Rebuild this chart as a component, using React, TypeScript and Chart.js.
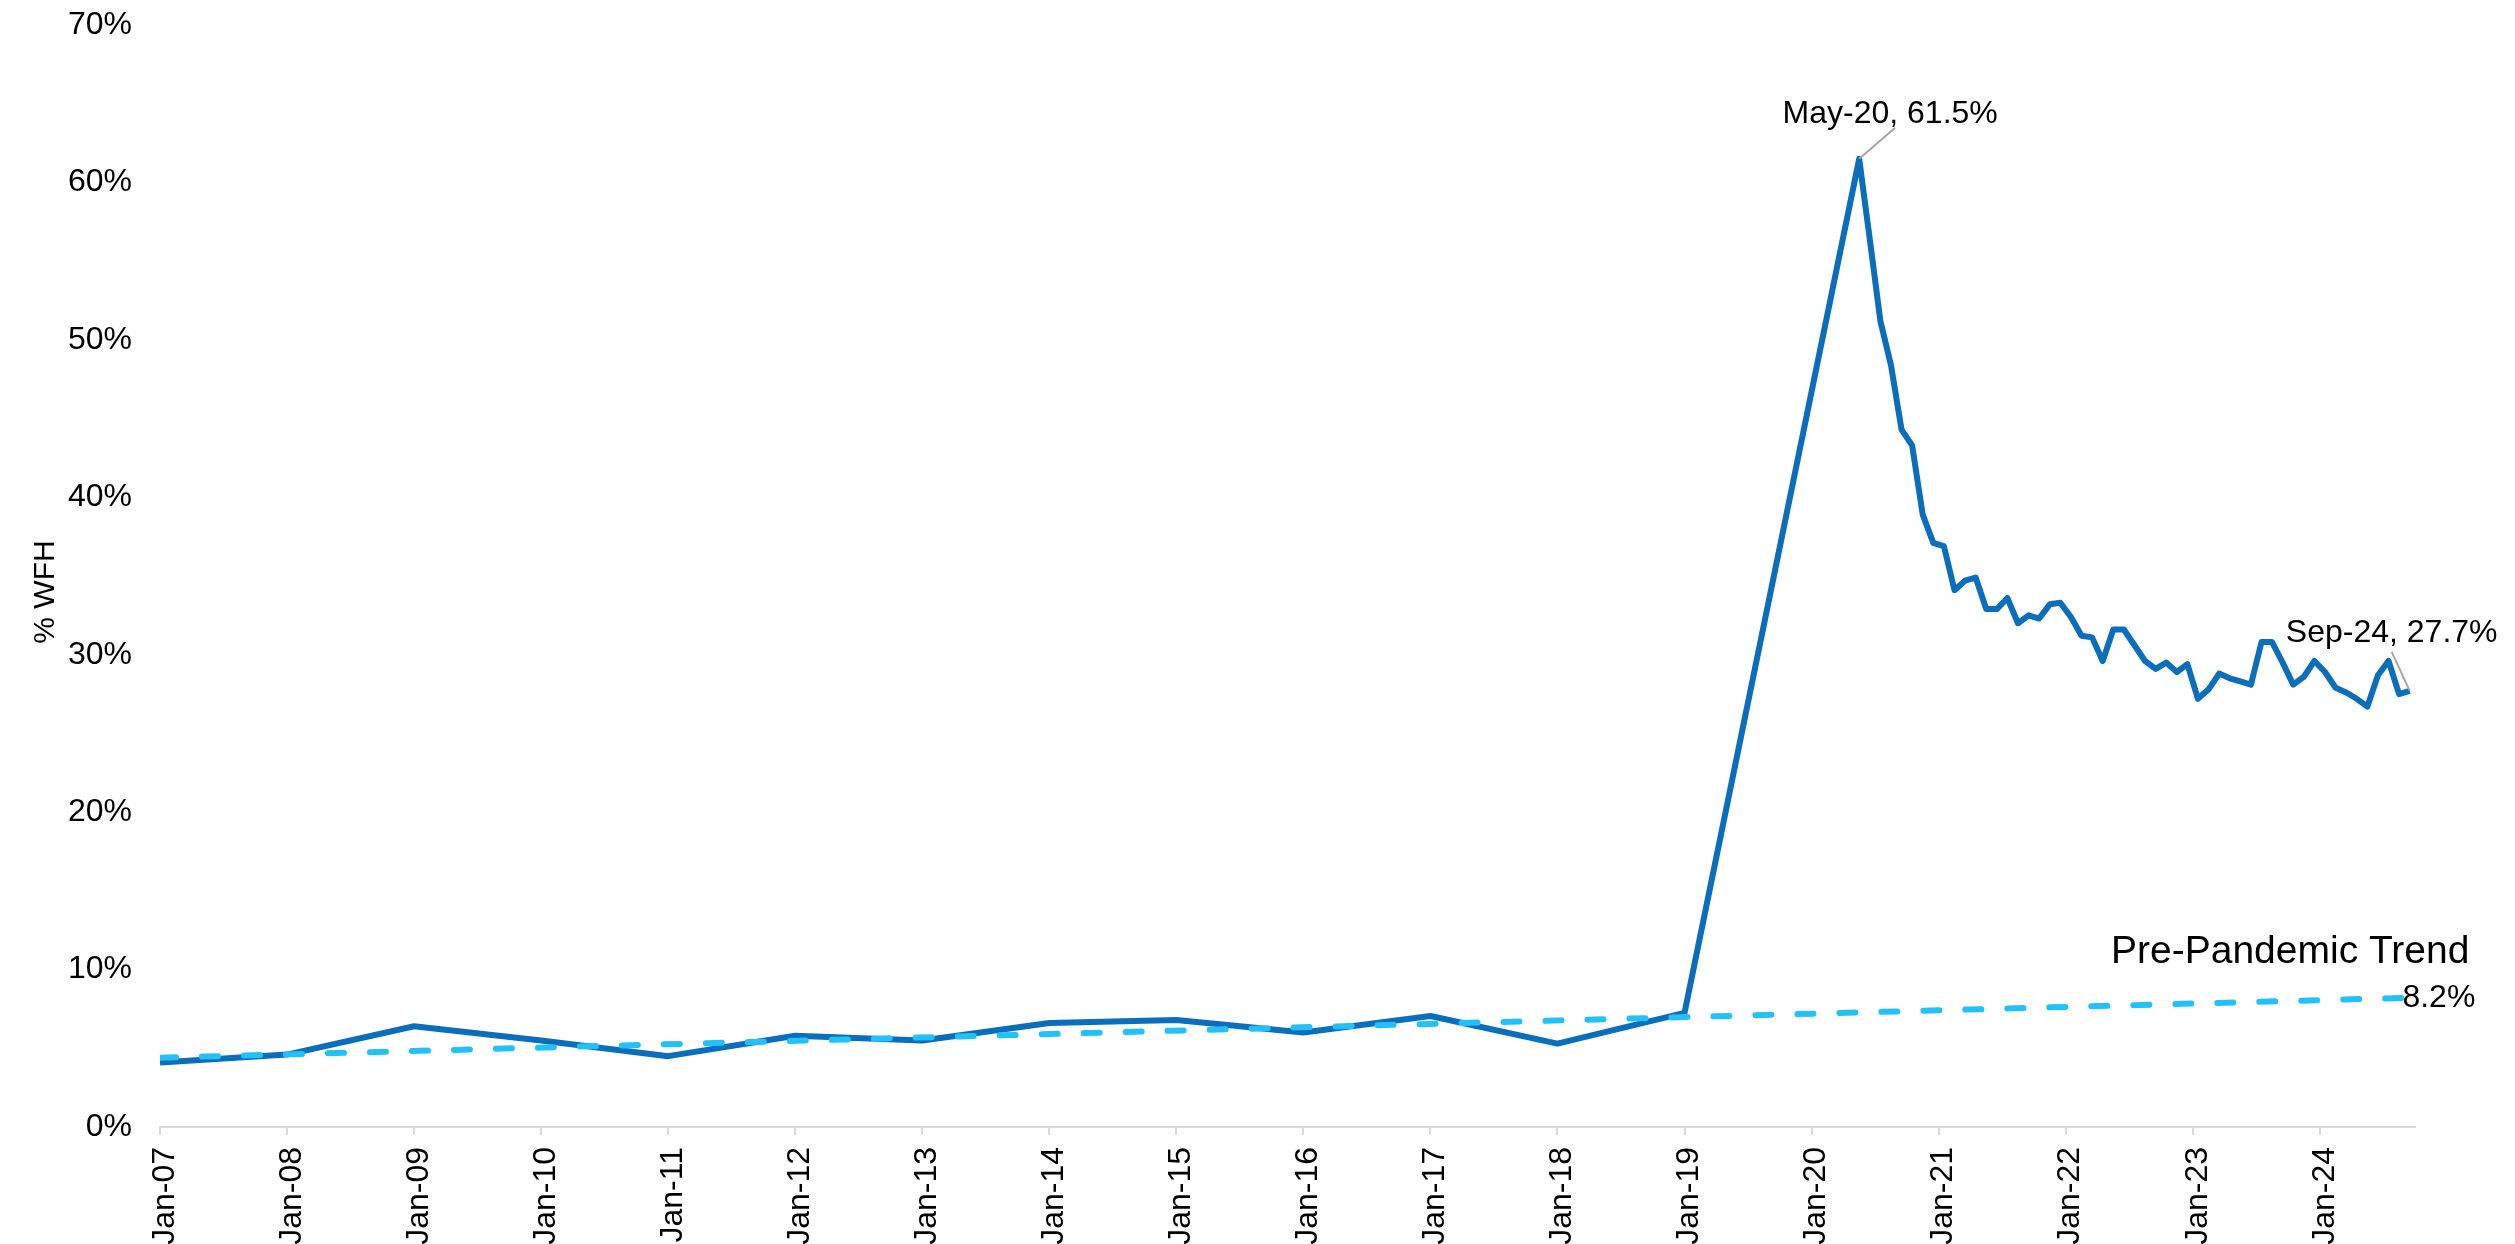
import { useEffect, useRef } from 'react';
import { Chart, registerables } from 'chart.js';
import type { Plugin } from 'chart.js';

Chart.register(...registerables);

const FONT = "'Liberation Sans', Arial, sans-serif";
const MONTHS = ['Jan', 'Feb', 'Mar', 'Apr', 'May', 'Jun', 'Jul', 'Aug', 'Sep', 'Oct', 'Nov', 'Dec'];

// annual observations before the pandemic
const preDates = ['Jan-07', 'Jan-08', 'Jan-09', 'Jan-10', 'Jan-11', 'Jan-12', 'Jan-13',
  'Jan-14', 'Jan-15', 'Jan-16', 'Jan-17', 'Jan-18', 'Jan-19'];
const preValues = [4.1, 4.6, 6.4, 5.5, 4.5, 5.8, 5.5, 6.6, 6.8, 6.0, 7.05, 5.3, 7.25];

// monthly observations from May-20 to Sep-24
const postStart = 'May-20';
const postValues = [
  61.5, 56.4, 51.2, 48.4, 44.3, 43.3, 38.9, 37.1,
  36.9, 34.1, 34.7, 34.9, 32.9, 32.9, 33.6, 32.0, 32.5, 32.3, 33.2, 33.3,
  32.4, 31.2, 31.1, 29.6, 31.6, 31.6, 30.6, 29.6, 29.1, 29.5, 28.9, 29.4,
  27.2, 27.8, 28.8, 28.5, 28.3, 28.1, 30.8, 30.8, 29.5, 28.1, 28.6, 29.6,
  28.9, 27.9, 27.6, 27.2, 26.7, 28.7, 29.6, 27.5, 27.7,
];

// pre-pandemic linear trend, start and end
const trendDates = ['Jan-07', 'Sep-24'];
const trendValues = [4.4, 8.2];

const xTickLabels = ['Jan-07', 'Jan-08', 'Jan-09', 'Jan-10', 'Jan-11', 'Jan-12', 'Jan-13', 'Jan-14',
  'Jan-15', 'Jan-16', 'Jan-17', 'Jan-18', 'Jan-19', 'Jan-20', 'Jan-21', 'Jan-22', 'Jan-23', 'Jan-24'];
const yTickValues = [0, 10, 20, 30, 40, 50, 60, 70];

const LINE_COLOR = '#0A6EBD';
const TREND_COLOR = '#22C1FC';
const LEADER_COLOR = '#A6A6A6';

// months since Jan-07
function monthIndex(label: string): number {
  const [m, yy] = label.split('-');
  return (Number(yy) - 7) * 12 + MONTHS.indexOf(m);
}

function monthLabel(idx: number): string {
  const yy = 7 + Math.floor(idx / 12);
  return `${MONTHS[idx % 12]}-${String(yy).padStart(2, '0')}`;
}

const postDates = postValues.map((_, i) => monthLabel(monthIndex(postStart) + i));

const labelsPlugin: Plugin<'line'> = {
  id: 'wfhLabels',
  afterDatasetsDraw(chart) {
    const { ctx, chartArea, scales: { x, y } } = chart;
    ctx.save();
    ctx.fillStyle = '#000';
    ctx.strokeStyle = LEADER_COLOR;
    ctx.lineWidth = 2;

    // peak label
    const peak = postValues.indexOf(Math.max(...postValues));
    const px = x.getPixelForValue(monthIndex(postDates[peak]) + 0.5);
    const py = y.getPixelForValue(postValues[peak]);
    ctx.beginPath();
    ctx.moveTo(px, py);
    ctx.lineTo(px + 36, py - 31);
    ctx.stroke();
    ctx.font = `32px ${FONT}`;
    ctx.textAlign = 'center';
    ctx.textBaseline = 'alphabetic';
    ctx.fillText(`${postDates[peak]}, ${postValues[peak].toFixed(1)}%`, px + 31, py - 36);

    // latest label
    const last = postValues.length - 1;
    const lx = x.getPixelForValue(monthIndex(postDates[last]) + 0.5);
    const ly = y.getPixelForValue(postValues[last]);
    ctx.beginPath();
    ctx.moveTo(lx, ly);
    ctx.lineTo(lx - 18, ly - 39);
    ctx.stroke();
    ctx.fillText(`${postDates[last]}, ${postValues[last].toFixed(1)}%`, lx - 18, ly - 49);

    // trend labels
    const tEnd = trendValues.length - 1;
    const tx = x.getPixelForValue(monthIndex(trendDates[tEnd]));
    const ty = y.getPixelForValue(trendValues[tEnd]);
    ctx.textAlign = 'left';
    ctx.textBaseline = 'middle';
    ctx.fillText(`${trendValues[tEnd].toFixed(1)}%`, tx - 2, ty);
    ctx.font = `39px ${FONT}`;
    ctx.textAlign = 'right';
    ctx.textBaseline = 'alphabetic';
    ctx.fillText('Pre-Pandemic Trend', tx + 65, ty - 35);

    // y axis title
    ctx.translate(54, (chartArea.top + chartArea.bottom) / 2 + 16);
    ctx.rotate(-Math.PI / 2);
    ctx.font = `30px ${FONT}`;
    ctx.textAlign = 'center';
    ctx.fillText('% WFH', 0, 0);
    ctx.restore();
  },
};

export default function App(): JSX.Element {
  const canvasRef = useRef<HTMLCanvasElement>(null);

  useEffect(() => {
    if (!canvasRef.current) return;

    const wfh = [
      ...preDates.map((d, i) => ({ x: monthIndex(d), y: preValues[i] })),
      // monthly readings sit mid-month on the date axis
      ...postDates.map((d, i) => ({ x: monthIndex(d) + 0.5, y: postValues[i] })),
    ];
    const trend = trendDates.map((d, i) => ({ x: monthIndex(d), y: trendValues[i] }));
    const xTicks = xTickLabels.map(monthIndex);

    const chart = new Chart(canvasRef.current, {
      type: 'line',
      data: {
        datasets: [
          {
            label: 'Pre-Pandemic Trend',
            data: trend,
            borderColor: TREND_COLOR,
            borderWidth: 6,
            borderDash: [16, 26],
            borderCapStyle: 'round',
            pointRadius: 0,
            order: 0,
          },
          {
            label: '% WFH',
            data: wfh,
            borderColor: LINE_COLOR,
            borderWidth: 6,
            borderJoinStyle: 'round',
            pointRadius: 0,
            order: 1,
          },
        ],
      },
      options: {
        animation: false,
        responsive: true,
        maintainAspectRatio: false,
        layout: { padding: { top: 25, right: 100, bottom: 0, left: 0 } },
        plugins: { legend: { display: false }, tooltip: { enabled: false } },
        scales: {
          x: {
            type: 'linear',
            min: 0,
            max: 213,
            afterFit: s => { s.height = 117; },
            afterBuildTicks: s => { s.ticks = xTicks.map(v => ({ value: v })); },
            grid: { drawOnChartArea: false, drawTicks: true, tickLength: 8, color: '#D9D9D9', lineWidth: 2 },
            border: { display: true, color: '#D9D9D9', width: 2 },
            ticks: {
              autoSkip: false,
              minRotation: 90,
              maxRotation: 90,
              padding: 12,
              labelOffset: 5,
              color: '#000',
              font: { family: FONT, size: 32 },
              callback: v => xTickLabels[xTicks.indexOf(Number(v))] ?? '',
            },
          },
          y: {
            min: 0,
            max: 70,
            afterFit: s => { s.width = 160; s.paddingTop = 0; s.paddingBottom = 0; },
            afterBuildTicks: s => { s.ticks = yTickValues.map(v => ({ value: v })); },
            grid: { display: false, drawTicks: false },
            border: { display: false },
            ticks: {
              padding: 28,
              color: '#000',
              font: { family: FONT, size: 32 },
              callback: v => `${v}%`,
            },
          },
        },
      },
      plugins: [labelsPlugin],
    });

    return () => { chart.destroy(); };
  }, []);

  return (
    <div style={{ position: 'fixed', inset: 0, background: '#fff' }}>
      <canvas ref={canvasRef} role="img" aria-label="Share of work from home, 2007 to 2024, with pre-pandemic trend" />
    </div>
  );
}
